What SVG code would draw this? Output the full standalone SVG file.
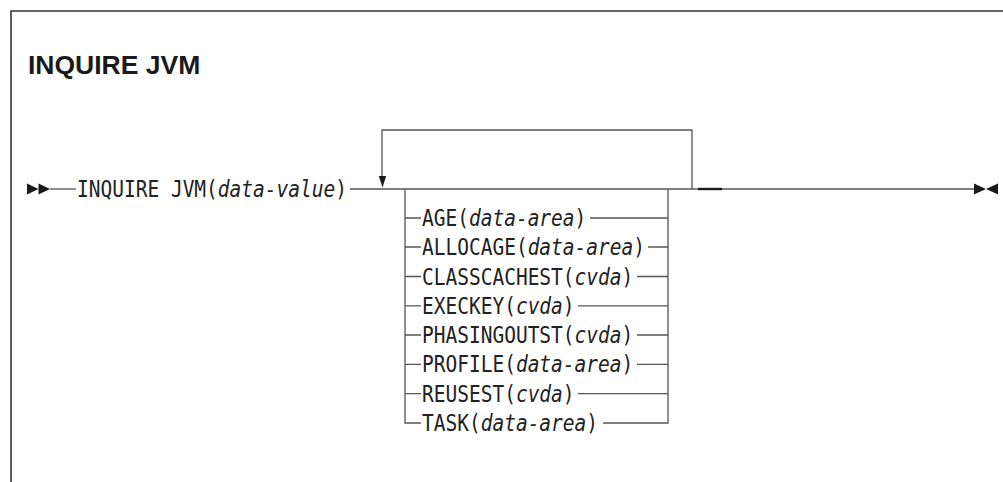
<svg xmlns="http://www.w3.org/2000/svg" width="1003" height="482" viewBox="0 0 1003 482">
<style>
.frame{fill:none;stroke:#333;stroke-width:1.6}
.ln{fill:none;stroke:#555;stroke-width:1.3}
.arr{fill:#1a1a1a}
.t{font-family:"DejaVu Sans Mono",monospace;font-size:23px;fill:#222}
.i{font-style:italic}
.title{font-family:"Liberation Sans",Arial,sans-serif;font-weight:bold;font-size:26.5px;fill:#1a1a1a}
</style>
<rect width="1003" height="482" fill="#fff"/>
<path class="frame" d="M11,482 V11 H1003"/>
<text class="title" x="28" y="74">INQUIRE JVM</text>
<g id="connectors">
<path class="ln" d="M50,189 H76"/>
<path class="ln" d="M350,189 H974"/>
<path d="M698,189 H722" stroke="#1a1a1a" stroke-width="2.4"/>
<path class="ln" d="M382,177 V130 H692 V189"/>
<polygon class="arr" points="378.8,176 386.2,176 382.5,187.5"/>
<path class="ln" d="M405,189 V423 H421"/>
<path class="ln" d="M668,189 V423 H603"/>
<path class="ln" d="M405,218 H421 M590,218 H668"/>
<path class="ln" d="M405,247 H421 M648,247 H668"/>
<path class="ln" d="M405,276.5 H421 M637,276.5 H668"/>
<path class="ln" d="M405,305.8 H421 M578,305.8 H668"/>
<path class="ln" d="M405,335 H421 M637,335 H668"/>
<path class="ln" d="M405,364.3 H421 M637,364.3 H668"/>
<path class="ln" d="M405,393.6 H421 M578,393.6 H668"/>
</g>
<g id="start">
<polygon class="arr" points="27,183.5 38.5,189 27,194.5"/>
<polygon class="arr" points="38.5,183.5 50,189 38.5,194.5"/>
</g>
<g id="end">
<polygon class="arr" points="974,183.5 986,189 974,194.5"/>
<polygon class="arr" points="998,183.5 986,189 998,194.5"/>
</g>
<g id="cmd"><text class="t" transform="translate(77,197) scale(0.848,1)">INQUIRE JVM(<tspan class="i">data-value</tspan>)</text></g>
<g id="age"><text class="t" transform="translate(422,226) scale(0.848,1)">AGE(<tspan class="i">data-area</tspan>)</text></g>
<g id="allocage"><text class="t" transform="translate(422,255) scale(0.848,1)">ALLOCAGE(<tspan class="i">data-area</tspan>)</text></g>
<g id="classcachest"><text class="t" transform="translate(422,284.5) scale(0.848,1)">CLASSCACHEST(<tspan class="i">cvda</tspan>)</text></g>
<g id="execkey"><text class="t" transform="translate(422,313.8) scale(0.848,1)">EXECKEY(<tspan class="i">cvda</tspan>)</text></g>
<g id="phasingoutst"><text class="t" transform="translate(422,343) scale(0.848,1)">PHASINGOUTST(<tspan class="i">cvda</tspan>)</text></g>
<g id="profile"><text class="t" transform="translate(422,372.3) scale(0.848,1)">PROFILE(<tspan class="i">data-area</tspan>)</text></g>
<g id="reusest"><text class="t" transform="translate(422,401.6) scale(0.848,1)">REUSEST(<tspan class="i">cvda</tspan>)</text></g>
<g id="task"><text class="t" transform="translate(422,431) scale(0.848,1)">TASK(<tspan class="i">data-area</tspan>)</text></g>
</svg>
